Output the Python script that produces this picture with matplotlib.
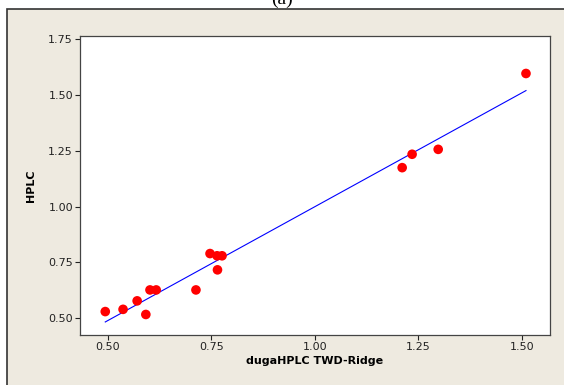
import matplotlib
matplotlib.use("Agg")
import matplotlib.pyplot as plt
import numpy as np
from matplotlib.patches import Rectangle

# duga HPLC TWD-Ridge vs HPLC
duga = [0.494, 0.537, 0.571, 0.592, 0.602, 0.617, 0.713, 0.747, 0.764, 0.776, 0.765,
        1.211, 1.235, 1.298, 1.510]
hplc = [0.530, 0.540, 0.578, 0.517, 0.627, 0.627, 0.627, 0.790, 0.780, 0.780, 0.717,
        1.175, 1.235, 1.257, 1.597]
xticks = [0.50, 0.75, 1.00, 1.25, 1.50]
yticks = [0.50, 0.75, 1.00, 1.25, 1.50, 1.75]

W, H = 564, 385
fig = plt.figure(figsize=(W / 100, H / 100), dpi=100)
fig.patch.set_facecolor("white")

# beige panel with dark border (left and top visible)
bg = "#eeeae0"
fig.add_artist(Rectangle((7 / W, -0.05), 1.1, (H - 9) / H + 0.05,
                         transform=fig.transFigure, facecolor=bg,
                         edgecolor="#333333", linewidth=1.2, zorder=-5))

# panel caption, cut off by the top edge as in the source
fig.text(282 / W, 1 + 1 / H, "(a)", ha="center", va="center",
         family="Liberation Serif", fontsize=14)

ax = fig.add_axes([80 / W, (H - 335) / H, 470 / W, 299 / H])
ax.set_zorder(1)
ax.set_facecolor("white")

x = np.array(duga)
y = np.array(hplc)
b, a = np.polyfit(x, y, 1)
xl = np.array([x.min(), x.max()])
ax.plot(xl, a + b * xl, color="#0000ff", linewidth=0.8, zorder=2)
ax.scatter(x, y, s=48, color="#ff0000", edgecolors="none", zorder=3)

ax.set_xlim(0.433, 1.568)
ax.set_ylim(0.425, 1.765)
ax.set_xticks(xticks)
ax.set_yticks(yticks)
ax.set_xticklabels(["%.2f" % v for v in xticks])
ax.set_yticklabels(["%.2f" % v for v in yticks])
ax.tick_params(direction="out", length=3.5, width=0.8, pad=1.5,
               labelsize=8, colors="#222222")

for s in ax.spines.values():
    s.set_color("#444444")
    s.set_linewidth(0.9)

ax.set_xlabel("dugaHPLC TWD-Ridge", fontsize=8, fontweight="bold", labelpad=3)
ax.set_ylabel("HPLC", fontsize=8, fontweight="bold", labelpad=9)

fig.savefig("out.png", dpi=100, facecolor=fig.get_facecolor())
